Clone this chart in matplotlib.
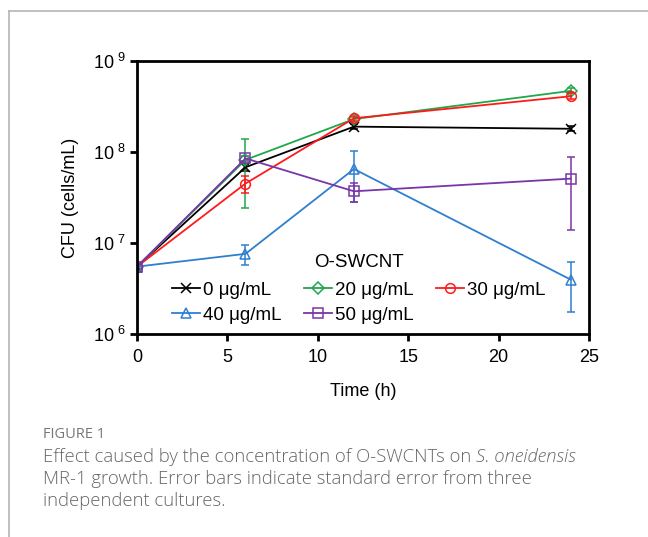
import math
import matplotlib
matplotlib.use('Agg')
import matplotlib.pyplot as plt
from matplotlib.lines import Line2D
from matplotlib.ticker import FixedLocator, FuncFormatter, NullLocator

plt.rcParams['font.family'] = ['Liberation Sans', 'DejaVu Sans']
plt.rcParams['mathtext.fontset'] = 'custom'
plt.rcParams['mathtext.rm'] = 'Liberation Sans'

# data
time = [0, 6, 12, 24]
labels = ['0 μg/mL', '20 μg/mL', '30 μg/mL', '40 μg/mL', '50 μg/mL']
cfu_0 = [5.5e6, 6.8e7, 1.9e8, 1.8e8]
err_0 = [3e5, 6e6, 1.2e7, 1.2e7]
cfu_20 = [5.5e6, 8.2e7, 2.3e8, 4.7e8]
err_20 = [3e5, 5.75e7, 1.5e7, 3e7]
cfu_30 = [5.5e6, 4.5e7, 2.35e8, 4.1e8]
err_30 = [3e5, 1e7, 1.5e7, 3e7]
cfu_40 = [5.5e6, 7.6e6, 6.5e7, 3.95e6]
err_40 = [3e5, 1.8e6, 3.7e7, 2.2e6]
cfu_50 = [5.5e6, 8.5e7, 3.7e7, 5.1e7]
err_50 = [3e5, 5e6, 9e6, 3.7e7]

series = [
    (cfu_0, err_0, 'black', 'x'),
    (cfu_20, err_20, '#1fa84a', 'D'),
    (cfu_30, err_30, '#ff1a1a', 'o'),
    (cfu_40, err_40, '#2f7fcf', '^'),
    (cfu_50, err_50, '#7a35a8', 's'),
]

fig = plt.figure(figsize=(6.48, 5.37), dpi=100)
fig.patch.set_facecolor('white')
ax = fig.add_axes([137/648, 1-334/537, (589-137)/648, (334-61)/537])

handles = {}
for (y, e, c, m), lab in zip(series, labels):
    ms = 7 if m != 'D' else 6
    style = dict(color=c, marker=m, markersize=ms, markerfacecolor='none',
                 markeredgecolor=c, markeredgewidth=1.1, lw=1.3)
    ax.errorbar(time, y, yerr=e, capsize=3, elinewidth=1.1, capthick=1.1, **style)
    handles[lab] = Line2D([], [], **style)

ax.set_yscale('log')
ax.set_ylim(1e6, 1e9)
ax.set_xlim(0, 25)
ax.yaxis.set_major_locator(FixedLocator([1e6, 1e7, 1e8, 1e9]))
ax.yaxis.set_minor_locator(NullLocator())
ax.yaxis.set_major_formatter(FuncFormatter(lambda v, p: r'$\mathregular{10^{\ %d}}$' % round(math.log10(v))))
ax.set_xticks([0, 5, 10, 15, 20, 25])
for s in ax.spines.values():
    s.set_linewidth(2)
ax.tick_params(axis='both', direction='out', length=5, width=2, labelsize=13)
ax.tick_params(axis='y', pad=3)
ax.tick_params(axis='x', pad=6)

ax.set_xlabel('Time (h)', fontsize=13, labelpad=12)
ax.set_ylabel('CFU (cells/mL)', fontsize=13, labelpad=10)

order = ['0 μg/mL', '40 μg/mL', '20 μg/mL', '50 μg/mL', '30 μg/mL']
leg = ax.legend([handles[k] for k in order], order, title='O-SWCNT', ncol=3,
                frameon=False, fontsize=13.5, title_fontsize=13.5,
                loc='lower center', bbox_to_anchor=(0.49, -0.01),
                handlelength=1.5, handletextpad=0.15, columnspacing=1.2,
                labelspacing=0.4, borderaxespad=0.3)
leg._legend_box.sep = 8

# outer frame lines
fig.add_artist(Line2D([9/648, 9/648], [0, 1-11/537], color='#b5b5b5', lw=1.2))
fig.add_artist(Line2D([9/648, 1], [1-11/537, 1-11/537], color='#b5b5b5', lw=1.2))

# caption
cap_font = ['Open Sans', 'DejaVu Sans']
cap_col = '#666666'
fig.text(43/648, 1-435/537, 'FIGURE 1', fontsize=10.5, color='#777777',
         family=cap_font, va='center')
line1 = fig.text(43/648, 1-457/537, 'Effect caused by the concentration of O-SWCNTs on ',
                 fontsize=13.3, color=cap_col, family=cap_font, weight='light', va='center')
fig.canvas.draw()
bb = line1.get_window_extent()
fig.text(bb.x1/648, 1-457/537, 'S. oneidensis', fontsize=13.3, color=cap_col,
         family=cap_font, weight='light', style='italic', va='center')
fig.text(43/648, 1-479/537, 'MR-1 growth. Error bars indicate standard error from three',
         fontsize=13.3, color=cap_col, family=cap_font, weight='light', va='center')
fig.text(43/648, 1-501/537, 'independent cultures.', fontsize=13.3, color=cap_col,
         family=cap_font, weight='light', va='center')

fig.savefig('out.png', dpi=100)
plt.close(fig)
